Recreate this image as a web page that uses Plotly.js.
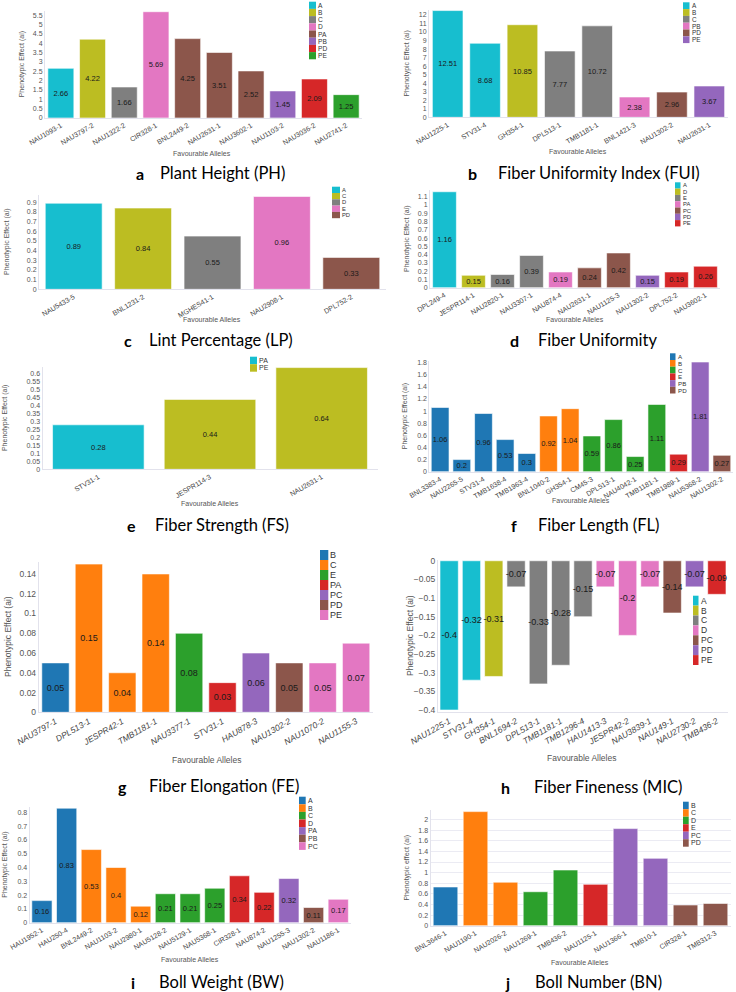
<!DOCTYPE html>
<html><head><meta charset="utf-8">
<script src="https://cdn.plot.ly/plotly-3.0.1.min.js"></script>
<style>html,body{margin:0;padding:0;background:#fff}</style>
</head><body><div id="chart" style="width:736px;height:992px"></div>
<script>
// ---------------- DATA ----------------
const PH_alleles = ['NAU1093-1','NAU3797-2','NAU1322-2','CIR328-1','BNL2449-2','NAU2631-1','NAU3602-1','NAU1103-2','NAU3036-2','NAU2741-2'];
const PH_values = [2.66,4.22,1.66,5.69,4.25,3.51,2.52,1.45,2.09,1.25];
const PH_groups = ['A','B','C','D','PA','PA','PA','PB','PD','PE'];

const FUI_alleles = ['NAU1225-1','STV31-4','GH354-1','DPL513-1','TMB1181-1','BNL1421-3','NAU1302-2','NAU2631-1'];
const FUI_values = [12.51,8.68,10.85,7.77,10.72,2.38,2.96,3.67];
const FUI_groups = ['A','A','B','C','C','PB','PD','PE'];

const LP_alleles = ['NAU5433-5','BNL1231-2','MGHES41-1','NAU2908-1','DPL752-2'];
const LP_values = [0.89,0.84,0.55,0.96,0.33];
const LP_groups = ['A','C','D','E','PD'];

const FU_alleles = ['DPL249-4','JESPR114-1','NAU2820-1','NAU3307-1','NAU874-4','NAU2631-1','NAU1125-3','NAU1302-2','DPL752-2','NAU3602-1'];
const FU_values = [1.16,0.15,0.16,0.39,0.19,0.24,0.42,0.15,0.19,0.26];
const FU_groups = ['A','D','E','E','PA','PC','PC','PD','PE','PE'];

const FS_alleles = ['STV31-1','JESPR114-3','NAU2631-1'];
const FS_values = [0.28,0.44,0.64];
const FS_groups = ['PA','PE','PE'];

const FL_alleles = ['BNL3383-4','NAU2265-5','STV31-4','TMB1638-4','TMB1963-4','BNL1040-2','GH354-1','CM45-3','DPL513-1','NAU4042-1','TMB1181-1','TMB1989-1','NAU5368-2','NAU1302-2'];
const FL_values = [1.06,0.2,0.96,0.53,0.3,0.92,1.04,0.59,0.86,0.25,1.11,0.29,1.81,0.27];
const FL_groups = ['A','A','A','A','A','B','B','C','C','C','C','E','PB','PD'];

const FE_alleles = ['NAU3797-1','DPL513-1','JESPR42-1','TMB1181-1','NAU3377-1','STV31-1','HAU878-3','NAU1302-2','NAU1070-2','NAU1155-3'];
const FE_values = [0.05,0.15,0.04,0.14,0.08,0.03,0.06,0.05,0.05,0.07];
const FE_groups = ['B','C','C','C','E','PA','PC','PD','PE','PE'];

const MIC_alleles = ['NAU1225-1','STV31-4','GH354-1','BNL1694-2','DPL513-1','TMB1181-1','TMB1296-4','HAU1413-3','JESPR42-2','NAU3839-1','NAU149-1','NAU2730-2','TMB436-2'];
const MIC_values = [-0.4,-0.32,-0.31,-0.07,-0.33,-0.28,-0.15,-0.07,-0.2,-0.07,-0.14,-0.07,-0.09];
const MIC_groups = ['A','A','B','C','C','C','C','D','D','D','PC','PD','PE'];

const BW_alleles = ['HAU1952-1','HAU250-4','BNL2449-2','NAU1103-2','NAU2980-1','NAU5128-2','NAU5129-1','NAU5368-1','CIR328-1','NAU874-2','NAU1255-3','NAU1302-2','NAU1186-1'];
const BW_values = [0.16,0.83,0.53,0.4,0.12,0.21,0.21,0.25,0.34,0.22,0.32,0.11,0.17];
const BW_groups = ['A','A','B','B','B','C','C','C','D','D','PA','PB','PC'];

const BN_alleles = ['BNL3646-1','NAU1190-1','NAU2026-2','NAU1269-1','TMB436-2','NAU1125-1','NAU1366-1','TMB10-1','CIR328-1','TMB312-3'];
const BN_values = [0.73,2.15,0.82,0.64,1.05,0.78,1.83,1.27,0.39,0.42];
const BN_groups = ['B','C','C','D','D','E','PC','PC','PD','PD'];

// ---------------- STYLE / LAYOUT ----------------
const PAL_REV = ['#17becf','#bcbd22','#7f7f7f','#e377c2','#8c564b','#9467bd','#d62728','#2ca02c','#ff7f0e','#1f77b4'];
const PAL_STD = ['#1f77b4','#ff7f0e','#2ca02c','#d62728','#9467bd','#8c564b','#e377c2','#7f7f7f','#bcbd22','#17becf'];
const FAM = 'Liberation Sans, Arial, sans-serif';
const TFAM = 'Lato, Noto Sans, sans-serif';
const W = 736, H = 992;
const px = x => x / W;
const py = y => 1 - y / H;

const panels = [
 {letter:'a', title:'Plant Height (PH)', al:PH_alleles, v:PH_values, g:PH_groups, pal:PAL_REV, txt:true,
  box:[45,362,10.6,118], range:[0,5.75], dtick:0.5, fs:7, it:false, ytx:22, xtt:[202,153],
  leg:[309,7,1.7,7.2,6.6], ttl:[134,158,173]},
 {letter:'b', title:'Fiber Uniformity Index (FUI)', al:FUI_alleles, v:FUI_values, g:FUI_groups, pal:PAL_REV, txt:true,
  box:[429,728,9.8,117.3], range:[0,12.6], dtick:1, fs:7, it:false, ytx:407, xtt:[578,151],
  leg:[683,6.5,2.3,6.8,6.4], ttl:[466,496,173]},
 {letter:'c', title:'Lint Percentage (LP)', al:LP_alleles, v:LP_values, g:LP_groups, pal:PAL_REV, txt:true,
  box:[39,386,194.5,289.3], range:[0,0.98], dtick:0.1, fs:7, it:false, ytx:7, xtt:[212,320],
  leg:[332,8,186.7,6.3,5.8], ttl:[122,147,340]},
 {letter:'d', title:'Fiber Uniformity', al:FU_alleles, v:FU_values, g:FU_groups, pal:PAL_REV, txt:true,
  box:[430,720,190.1,287.7], range:[0,1.18], dtick:0.1, fs:7, it:false, ytx:407, xtt:[575,320],
  leg:[675,5.5,182.3,6.3,5.8], ttl:[508,536,340]},
 {letter:'e', title:'Fiber Strength (FS)', al:FS_alleles, v:FS_values, g:FS_groups, pal:PAL_REV, txt:true,
  box:[42.5,377.5,366.8,469.3], range:[0,0.645], dtick:0.05, fs:7, it:false, ytx:5, xtt:[210,503],
  leg:[250,7,356.7,7.5,7], ttl:[125,153,525]},
 {letter:'f', title:'Fiber Length (FL)', al:FL_alleles, v:FL_values, g:FL_groups, pal:PAL_STD, txt:true,
  box:[429.3,732.7,360.8,471.7], range:[0,1.83], dtick:0.2, fs:7, it:false, ytx:405, xtt:[581,500],
  leg:[670,5.5,353.3,6.7,6.2], ttl:[509,536,525]},
 {letter:'g', title:'Fiber Elongation (FE)', al:FE_alleles, v:FE_values, g:FE_groups, pal:PAL_STD, txt:true,
  box:[38.8,372.8,561.7,712.3], range:[0,0.1524], dtick:0.02, fs:8.5, it:true, ytx:8, xtt:[206,760],
  leg:[320,8.3,550,10,9], ttl:[116,147,786]},
 {letter:'h', title:'Fiber Fineness (MIC)', al:MIC_alleles, v:MIC_values, g:MIC_groups, pal:PAL_REV, txt:true,
  box:[438,728,560,711.9], range:[-0.405,0.002], dtick:0.05, fs:8.5, it:true, ytx:410, xtt:[581,758],
  leg:[693,5.5,595.7,9.9,8.5], ttl:[499,532,787]},
 {letter:'i', title:'Boll Weight (BW)', al:BW_alleles, v:BW_values, g:BW_groups, pal:PAL_STD, txt:true,
  box:[29.6,350.6,806.8,922.7], range:[0,0.84], dtick:0.1, fs:7, it:false, ytx:5, xtt:[190,959],
  leg:[299,6.7,796.7,7.6,7], ttl:[129,157,982]},
 {letter:'j', title:'Boll Number (BN)', al:BN_alleles, v:BN_values, g:BN_groups, pal:PAL_STD, txt:false,
  box:[430.5,730.5,809.5,925.7], range:[0,2.19], dtick:0.2, fs:7, it:false, ytx:407, xtt:[580,962],
  leg:[683,5.7,801.7,7.5,7], ttl:[503,533,982], grid:true, ylabel:'Phenotypic effect (ai)'}
];

const traces = [];
const layout = {
  width: W, height: H, margin:{l:0,r:0,t:0,b:0},
  paper_bgcolor:'#fff', plot_bgcolor:'#fff', showlegend:false,
  barmode:'overlay', bargap:0.18, font:{family:FAM, color:'#444'},
  shapes:[], annotations:[]
};

panels.forEach((p, k) => {
  const sfx = k === 0 ? '' : String(k + 1);
  const legGroups = [...new Set(p.g)];
  legGroups.forEach((grp, gi) => {
    const idx = p.g.map((x, i) => x === grp ? i : -1).filter(i => i >= 0);
    const vals = idx.map(i => p.v[i]);
    traces.push({
      type:'bar', name:grp,
      x: idx.map(i => p.al[i]), y: vals,
      text: p.txt ? vals.map(String) : undefined,
      textposition: p.txt ? 'inside' : 'none', insidetextanchor:'middle', textangle:0,
      constraintext:'none', cliponaxis:false,
      textfont:{size: p.fs + 0.5, color:'#1a1a1a', family:FAM},
      marker:{color: p.pal[gi], line:{color:'rgba(255,255,255,0.75)', width:0.8}},
      xaxis:'x' + sfx, yaxis:'y' + sfx, hoverinfo:'skip'
    });
    // manual legend (swatch + label)
    const [lx, lw, ltop, lh, lfs] = p.leg;
    layout.shapes.push({type:'rect', xref:'paper', yref:'paper', layer:'above',
      x0:px(lx), x1:px(lx + lw), y0:py(ltop + gi*lh), y1:py(ltop + (gi+1)*lh),
      fillcolor:p.pal[gi], line:{width:0}});
    layout.annotations.push({xref:'paper', yref:'paper', x:px(lx + lw + 1), y:py(ltop + (gi+0.5)*lh),
      xanchor:'left', yanchor:'middle', showarrow:false, text:grp, borderpad:0,
      font:{size:lfs, color:'#333', family:FAM}});
  });
  const [x0, x1, yt, yb] = p.box;
  layout['xaxis' + sfx] = {
    domain:[px(x0), px(x1)], anchor:'y' + sfx, type:'category',
    categoryorder:'array', categoryarray:p.al, tickangle:-30,
    tickfont:{size:p.fs, color:'#444', family:FAM, style: p.it ? 'italic' : 'normal'},
    showline:true, linecolor:'#e2e2ec', linewidth:1, ticks:'', showgrid:false, zeroline:false, fixedrange:true
  };
  layout['yaxis' + sfx] = {
    domain:[py(yb), py(yt)], anchor:'x' + sfx, range:p.range, tick0:0, dtick:p.dtick,
    tickfont:{size:p.fs, color:'#555', family:FAM},
    showline:true, linecolor:'#e2e2ec', linewidth:1, ticks:'',
    showgrid:!!p.grid, gridcolor:'#ebebf3', zeroline:false, fixedrange:true
  };
  // axis titles
  layout.annotations.push({xref:'paper', yref:'paper', x:px(p.ytx), y:py((yt + yb)/2),
    textangle:-90, showarrow:false, xanchor:'center', yanchor:'middle',
    text:p.ylabel || 'Phenotypic Effect (ai)', font:{size:p.fs, color:'#555', family:FAM}});
  layout.annotations.push({xref:'paper', yref:'paper', x:px(p.xtt[0]), y:py(p.xtt[1]),
    showarrow:false, xanchor:'center', yanchor:'middle',
    text:'Favourable Alleles', font:{size:p.fs, color:'#555', family:FAM}});
  // panel titles
  layout.annotations.push({xref:'paper', yref:'paper', x:px(p.ttl[0]), y:py(p.ttl[2]),
    showarrow:false, xanchor:'left', yanchor:'middle',
    text:'<b>' + p.letter + '</b>', font:{size:16, color:'#000', family:TFAM}});
  layout.annotations.push({xref:'paper', yref:'paper', x:px(p.ttl[1]), y:py(p.ttl[2]),
    showarrow:false, xanchor:'left', yanchor:'middle',
    text:p.title, font:{size:16.5, color:'#000', family:TFAM}});
});

Plotly.newPlot('chart', traces, layout, {displayModeBar:false, staticPlot:true});
</script></body></html>
